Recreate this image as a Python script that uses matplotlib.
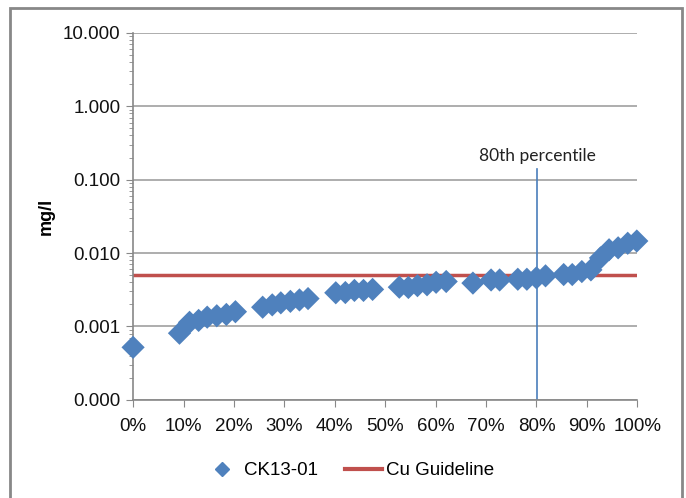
import matplotlib.pyplot as plt
from matplotlib.patches import Rectangle
from matplotlib.lines import Line2D
from matplotlib.ticker import FixedLocator, FuncFormatter, LogLocator, NullFormatter

# percentile rank (%) and Cu concentration (mg/l) for CK13-01
percentiles = [0, 9.2, 11.2, 13.0, 14.7, 16.6, 18.5, 20.3,
               25.7, 27.6, 29.3, 31.2, 33.0, 34.7,
               40.2, 42.1, 43.9, 45.7, 47.5,
               52.8, 54.6, 56.4, 58.3, 60.1, 62.1,
               67.4, 71.0, 72.7, 76.3, 78.1, 80.0, 81.8,
               85.4, 87.1, 89.0, 90.8, 92.7, 94.4, 96.2, 98.1, 99.9]
cu_values = [0.00052, 0.00081, 0.00114, 0.00121, 0.00134, 0.00140, 0.00146, 0.00159,
             0.00183, 0.00197, 0.00210, 0.00220, 0.00230, 0.00240,
             0.00288, 0.00290, 0.00310, 0.00310, 0.00320,
             0.00343, 0.00340, 0.00360, 0.00370, 0.00400, 0.00410,
             0.00390, 0.00430, 0.00430, 0.00440, 0.00440, 0.00460, 0.00490,
             0.00510, 0.00510, 0.00560, 0.00590, 0.00860, 0.01110, 0.01180, 0.01360, 0.01460]
guideline = 0.005
pct80 = 80.1
pct80_top = 0.14

font = 'Liberation Sans'
fig = plt.figure(figsize=(6.86, 4.98), dpi=100)
ax = fig.add_axes([0.194, 0.197, 0.735, 0.737])

ax.set_yscale('log')
ax.set_ylim(0.0001, 10)
ax.set_xlim(0, 100)

ax.axhline(guideline, color='#c0504d', lw=2.5, zorder=2)
ax.plot([pct80, pct80], [0.0001, pct80_top], color='#4a7ebb', lw=1.2, zorder=2)
ax.scatter(percentiles, cu_values, marker='D', s=140, color='#4f81bd',
           edgecolors='none', zorder=3, clip_on=False)
ax.text(pct80, 0.165, '80th percentile', ha='center', va='bottom',
        fontsize=12.5, family='Lato', color='#222222')

ax.yaxis.set_major_locator(FixedLocator([0.0001, 0.001, 0.01, 0.1, 1, 10]))
ax.yaxis.set_major_formatter(FuncFormatter(lambda v, p: '%.3f' % v))
ax.yaxis.set_minor_locator(LogLocator(base=10, subs=range(2, 10)))
ax.yaxis.set_minor_formatter(NullFormatter())
ax.set_xticks(range(0, 101, 10))
ax.set_xticklabels(['%d%%' % t for t in range(0, 101, 10)])

ax.grid(axis='y', which='major', color='#a0a0a0', lw=1.2)
ax.set_axisbelow(True)
for s in ['top', 'right']:
    ax.spines[s].set_visible(False)
for s in ['left', 'bottom']:
    ax.spines[s].set_color('#888888')
    ax.spines[s].set_linewidth(1.2)
ax.tick_params(which='major', length=5, color='#888888', labelsize=13.5, pad=4)
ax.tick_params(axis='y', which='minor', length=3, color='#888888')
ax.tick_params(axis='x', pad=8)
for lab in ax.get_xticklabels() + ax.get_yticklabels():
    lab.set_family(font)
    lab.set_color('#111111')

ax.set_ylabel('mg/l', fontsize=13, fontweight='bold', family=font, labelpad=6)

handles = [Line2D([], [], marker='D', ls='none', color='#4f81bd', markersize=7),
           Line2D([], [], color='#c0504d', lw=3)]
fig.legend(handles, ['CK13-01', 'Cu Guideline'], loc='center', ncol=2,
           bbox_to_anchor=(0.508, 0.055), frameon=False,
           prop={'family': font, 'size': 13.5}, handlelength=2.0,
           handletextpad=0.2, columnspacing=1.4)

fig.add_artist(Rectangle((10 / 686, -0.1), 672 / 686, 1.1 - 8 / 498,
                         transform=fig.transFigure, fill=False,
                         edgecolor='#888888', lw=2))

fig.savefig('out.png', dpi=100)
